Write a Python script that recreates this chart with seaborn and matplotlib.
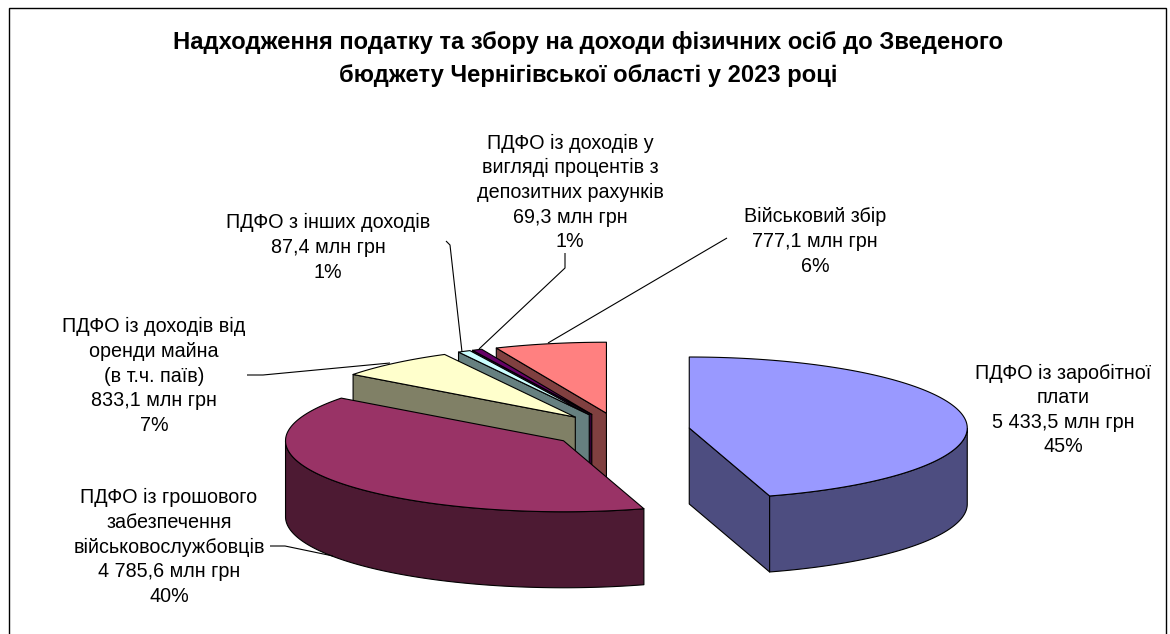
import numpy as np
import matplotlib
matplotlib.use("Agg")
import matplotlib.pyplot as plt
import seaborn as sns

categories = ["ПДФО із заробітної\nплати",
              "ПДФО із грошового\nзабезпечення\nвійськовослужбовців",
              "ПДФО із доходів від\nоренди майна\n(в т.ч. паїв)",
              "ПДФО з інших доходів",
              "ПДФО із доходів у\nвигляді процентів з\nдепозитних рахунків",
              "Військовий збір"]
values = [5433.5, 4785.6, 833.1, 87.4, 69.3, 777.1]
value_labels = ["5 433,5 млн грн", "4 785,6 млн грн", "833,1 млн грн",
                "87,4 млн грн", "69,3 млн грн", "777,1 млн грн"]
percent_labels = ["45%", "40%", "7%", "1%", "1%", "6%"]
top_colors = ["#9999FF", "#993366", "#FFFFCC", "#CCFFFF", "#660066", "#FF8080"]
title = ("Надходження податку та збору на доходи фізичних осіб до Зведеного\n"
         "бюджету Чернігівської області у 2023 році")

# layout (pixels)
W, H = 1170, 634
CX, CY, RX, RY, DEPTH, EXPLODE = 620.5, 430.6, 278.0, 71.0, 76.0, 0.25
label_pos = [(1063, 410), (169, 547), (154, 376), (328, 247.5), (570, 192.5), (815, 241.5)]
leaders = [None,
           ([270, 285, 333], [546, 546, 556]),
           ([247, 263, 390], [375, 375, 363]),
           ([446, 450, 462], [241, 245, 352]),
           ([565, 565, 479], [253, 268, 349]),
           ([727, 548], [238, 343])]

sns.set_theme(style="white")
plt.rcParams["font.family"] = ["Liberation Sans", "DejaVu Sans"]

fig, ax = plt.subplots(figsize=(W / 100, H / 100), dpi=100)
fig.patch.set_facecolor("white")
ax.set_position([0, 0, 1, 1])
ax.set_xlim(0, W)
ax.set_ylim(H, 0)
ax.axis("off")

# chart frame (the bottom edge falls outside the picture)
ax.plot([9.0, 9.0, 1166.0, 1166.0], [H + 5, 8.2, 8.2, H + 5], color="black", lw=1.0,
        solid_joinstyle="miter", zorder=1)

fractions = np.array(values) / np.sum(values)
edges = np.concatenate([[0], np.cumsum(fractions) * 360.0])
LW = 0.8


def shade(hex_colour):
    rgb = np.array(sns.color_palette([hex_colour])[0])
    return tuple(rgb * 0.5)


def face(xs, ys, colour, z):
    ax.fill(xs, ys, facecolor=colour, edgecolor="black", lw=LW, joinstyle="round", zorder=z)


def draw_slice(i, z):
    start, end = edges[i], edges[i + 1]
    mid = np.radians((start + end) / 2)
    ax0 = CX + EXPLODE * RX * np.sin(mid)
    ay0 = CY - EXPLODE * RY * np.cos(mid)
    dark = shade(top_colors[i])
    t = np.radians(np.linspace(start, end, max(3, int((end - start) * 2))))
    x = ax0 + RX * np.sin(t)
    y = ay0 - RY * np.cos(t)
    # cut faces turned towards the viewer
    if np.sin(np.radians(start)) < -1e-9:
        face([ax0, x[0], x[0], ax0], [ay0, y[0], y[0] + DEPTH, ay0 + DEPTH], dark, z)
    if np.sin(np.radians(end)) > 1e-9:
        face([ax0, x[-1], x[-1], ax0], [ay0, y[-1], y[-1] + DEPTH, ay0 + DEPTH], dark, z)
    # outer wall
    front = (np.degrees(t) >= 90) & (np.degrees(t) <= 270)
    if front.sum() > 1:
        xf, yf = x[front], y[front]
        face(np.r_[xf, xf[::-1]], np.r_[yf, yf[::-1] + DEPTH], dark, z + 0.1)
    # top
    face(np.r_[ax0, x], np.r_[ay0, y], top_colors[i], z + 0.2)


for z, i in enumerate([5, 4, 3, 2, 1, 0]):
    draw_slice(i, 3 + z)

for line in leaders:
    if line is not None:
        ax.plot(line[0], line[1], color="black", lw=0.8, zorder=12, solid_capstyle="butt")

ax.text(588, 59, title, ha="center", va="center", multialignment="center",
        fontsize=17.1, fontweight="bold", color="black", linespacing=1.55, zorder=20)

for cat, val, pct, (lx, ly) in zip(categories, value_labels, percent_labels, label_pos):
    ax.text(lx, ly, f"{cat}\n{val}\n{pct}", ha="center", va="center", multialignment="center",
            fontsize=14.2, color="black", linespacing=1.37, zorder=20)

fig.savefig("out.png", dpi=100)
